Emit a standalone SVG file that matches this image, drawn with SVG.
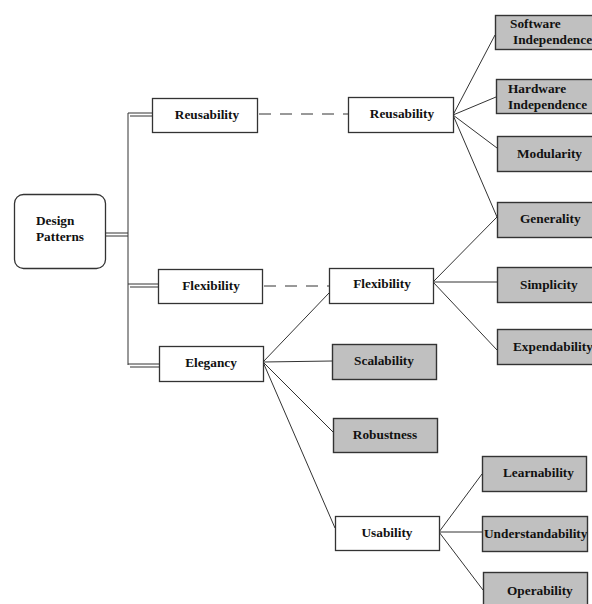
<svg xmlns="http://www.w3.org/2000/svg" width="592" height="604" viewBox="0 0 592 604">
<style>
.box{fill:#fff;stroke:#333;stroke-width:1.3}
.g{fill:#c0c0c0;stroke:#333;stroke-width:1.4}
.t{font-family:"Liberation Serif","Times New Roman",serif;font-weight:bold;font-size:13.3px;fill:#111}
.c{text-anchor:middle}
.ln{stroke:#333;stroke-width:1;fill:none}
.dl{stroke:#333;stroke-width:1;fill:none}
.da{stroke:#333;stroke-width:1;stroke-dasharray:12,9;fill:none}
</style>
<rect width="592" height="604" fill="#fff"/>
<g id="connectors">
  <line class="dl" x1="128" y1="113" x2="128" y2="365" stroke-width="1.6"/>
  <line class="dl" x1="105" y1="233" x2="128" y2="233"/>
  <line class="dl" x1="105" y1="236" x2="128" y2="236"/>
  <line class="dl" x1="128" y1="113" x2="152" y2="113"/>
  <line class="dl" x1="130" y1="116" x2="152" y2="116"/>
  <line class="dl" x1="128" y1="284" x2="158" y2="284"/>
  <line class="dl" x1="130" y1="287" x2="158" y2="287"/>
  <line class="dl" x1="128" y1="364" x2="159" y2="364"/>
  <line class="dl" x1="130" y1="367" x2="159" y2="367"/>
  <line class="da" x1="259" y1="114" x2="348" y2="114"/>
  <line class="da" x1="264" y1="286" x2="329" y2="286"/>
  <line class="ln" x1="453" y1="115" x2="495" y2="35"/>
  <line class="ln" x1="453" y1="115" x2="496" y2="97"/>
  <line class="ln" x1="453" y1="115" x2="497" y2="148"/>
  <line class="ln" x1="453" y1="115" x2="497" y2="217"/>
  <line class="ln" x1="433" y1="282" x2="497" y2="217"/>
  <line class="ln" x1="433" y1="282" x2="497" y2="282"/>
  <line class="ln" x1="433" y1="282" x2="497" y2="350"/>
  <line class="ln" x1="263" y1="362" x2="329" y2="293"/>
  <line class="ln" x1="263" y1="362" x2="332" y2="361"/>
  <line class="ln" x1="263" y1="362" x2="333" y2="432"/>
  <line class="ln" x1="263" y1="362" x2="335" y2="528"/>
  <line class="ln" x1="439" y1="532" x2="482" y2="474"/>
  <line class="ln" x1="439" y1="532" x2="482" y2="532"/>
  <line class="ln" x1="439" y1="532" x2="483" y2="590"/>
</g>
<g id="design-patterns">
  <rect class="box" x="14.5" y="194.5" width="91" height="74" rx="9"/>
  <text class="t" x="36" y="225">Design</text>
  <text class="t" x="36" y="241">Patterns</text>
</g>
<g id="reusability-1">
  <rect class="box" x="152.5" y="98.5" width="105" height="34"/>
  <text class="t c" x="207" y="119">Reusability</text>
</g>
<g id="flexibility-1">
  <rect class="box" x="158.5" y="269.5" width="104" height="34"/>
  <text class="t c" x="211" y="290">Flexibility</text>
</g>
<g id="elegancy">
  <rect class="box" x="159.5" y="346.5" width="104" height="35"/>
  <text class="t c" x="211" y="367">Elegancy</text>
</g>
<g id="reusability-2">
  <rect class="box" x="348.5" y="97.5" width="105" height="35"/>
  <text class="t c" x="402" y="118">Reusability</text>
</g>
<g id="flexibility-2">
  <rect class="box" x="329.5" y="268.5" width="104" height="35"/>
  <text class="t c" x="382" y="288">Flexibility</text>
</g>
<g id="scalability">
  <rect class="g" x="332.5" y="344.5" width="104" height="35"/>
  <text class="t c" x="384" y="365">Scalability</text>
</g>
<g id="robustness">
  <rect class="g" x="333.5" y="418.5" width="104" height="34"/>
  <text class="t c" x="385" y="439">Robustness</text>
</g>
<g id="usability">
  <rect class="box" x="335.5" y="516.5" width="104" height="34"/>
  <text class="t c" x="387" y="537">Usability</text>
</g>
<g id="software-independence">
  <rect class="g" x="495.5" y="15.5" width="98" height="34"/>
  <text class="t" x="510" y="28">Software</text>
  <text class="t" x="513" y="44">Independence</text>
</g>
<g id="hardware-independence">
  <rect class="g" x="496.5" y="79.5" width="98" height="34"/>
  <text class="t" x="508" y="93">Hardware</text>
  <text class="t" x="508" y="109">Independence</text>
</g>
<g id="modularity">
  <rect class="g" x="497.5" y="136.5" width="98" height="35"/>
  <text class="t" x="517" y="158">Modularity</text>
</g>
<g id="generality">
  <rect class="g" x="497.5" y="202.5" width="98" height="35"/>
  <text class="t" x="520" y="223">Generality</text>
</g>
<g id="simplicity">
  <rect class="g" x="497.5" y="267.5" width="98" height="35"/>
  <text class="t" x="520" y="289">Simplicity</text>
</g>
<g id="expendability">
  <rect class="g" x="497.5" y="329.5" width="98" height="35"/>
  <text class="t" x="513" y="351">Expendability</text>
</g>
<g id="learnability">
  <rect class="g" x="482.5" y="456.5" width="104" height="35"/>
  <text class="t" x="503" y="477">Learnability</text>
</g>
<g id="understandability">
  <rect class="g" x="482.5" y="516.5" width="105" height="35"/>
  <text class="t" x="484" y="538">Understandability</text>
</g>
<g id="operability">
  <rect class="g" x="483.5" y="572.5" width="104" height="35"/>
  <text class="t" x="507" y="595">Operability</text>
</g>
</svg>
